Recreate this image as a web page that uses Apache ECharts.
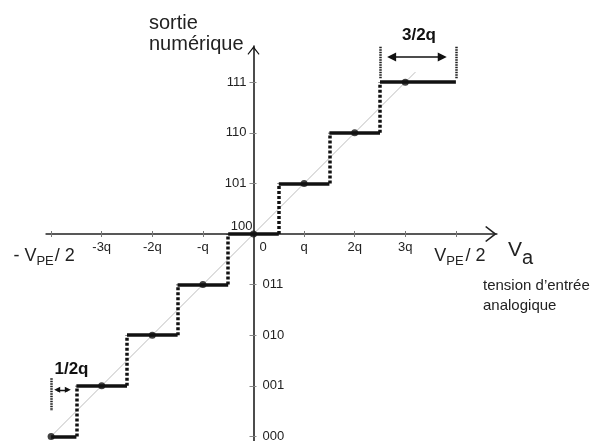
<!DOCTYPE html>
<html><head><meta charset="utf-8">
<script src="https://cdn.jsdelivr.net/npm/echarts@6/dist/echarts.min.js"></script>
<style>html,body{margin:0;padding:0;background:#fff}#c{width:596px;height:441px}</style>
</head><body><div id="c"></div>
<script>
// ---- data ----
const levels = [-4, -3, -2, -1, 0, 1, 2, 3];
const codes = ['000', '001', '010', '011', '100', '101', '110', '111'];
const stepStarts = [-4, -3.5, -2.5, -1.5, -0.5, 0.5, 1.5, 2.5];
const stepEnds = [-3.5, -2.5, -1.5, -0.5, 0.5, 1.5, 2.5, 4];
const xTickValues = [-4, -3, -2, -1, 0, 1, 2, 3, 4];
const xTickLabels = ['- V_PE / 2', '-3q', '-2q', '-q', '0', 'q', '2q', '3q', 'V_PE / 2'];
const posLevels = [0, 1, 2, 3];
const negLevels = [-4, -3, -2, -1];
const diagonal = [[-4, -4], [3.2, 3.2]];
// dimension marks (3/2q and 1/2q)
const bigSpanX = [2.5, 4];
const bigSpanY = [3.08, 3.70];
const bigArrow = [[2.73, 3.5], [3.73, 3.5]];
const smallSpanX = [-4];
const smallSpanY = [-2.85, -3.5];
const smallArrow = [[-3.88, -3.08], [-3.67, -3.08]];

const FONT = '"Liberation Sans", Arial, Helvetica, sans-serif';
const TXT = '#222';
const chev = 'path://M10,0 L20,13 L18.6,14.4 L10,3.3 L1.4,14.4 L0,13 Z';

const chart = echarts.init(document.getElementById('c'), null, {renderer: 'canvas'});

function xLabel(v) {
  const i = xTickValues.indexOf(v);
  const lbl = xTickLabels[i];
  if (lbl.indexOf('V_PE') >= 0) {
    const parts = lbl.split('V_PE');
    const pre = parts[0], post = parts[1].trim();
    if (i === 0) return '{a|' + pre + 'V}{s|PE}{al|' + post + '}';
    return '{ar|V}{s|PE}{b|' + post + '}';
  }
  if (v === 0) return '{z|' + lbl + '}';
  return '{q|' + lbl + '}';
}

// layout: origin pixel and px per unit
const unit = 50.6, x0 = 253.5, y0 = 234;
const xmin = -4.1, xmax = 4.81, ymin = -4.1, ymax = 3.715;
const GL = x0 + xmin * unit, GT = y0 - ymax * unit;
const GW = (xmax - xmin) * unit, GH = (ymax - ymin) * unit;

const option = {
  animation: false,
  backgroundColor: '#fff',
  grid: {left: GL, top: GT, width: GW, height: GH, containLabel: false, outerBoundsMode: 'none'},
  xAxis: [{
    type: 'value', min: xmin, max: xmax, position: 'bottom', offset: y0 - (GT + GH),
    splitLine: {show: false},
    axisLine: {onZero: false, symbol: ['none', chev], symbolSize: [16, 12], symbolOffset: [0, -6],
      lineStyle: {color: '#222', width: 1.5}},
    axisTick: {customValues: xTickValues, length: 3, lineStyle: {color: '#777', width: 1}},
    axisLabel: {
      customValues: xTickValues, margin: 7, formatter: xLabel, verticalAlign: 'top',
      showMinLabel: true, showMaxLabel: true, hideOverlap: false,
      rich: {
        q: {fontSize: 13, fontFamily: FONT, color: TXT, lineHeight: 13, verticalAlign: 'top'},
        z: {fontSize: 13, fontFamily: FONT, color: TXT, lineHeight: 13, verticalAlign: 'top', padding: [0, 0, 0, 19]},
        a: {fontSize: 18, fontFamily: FONT, color: TXT, lineHeight: 18, verticalAlign: 'top', padding: [6.5, 0, 0, 0]},
        al: {fontSize: 18, fontFamily: FONT, color: TXT, lineHeight: 18, verticalAlign: 'top', padding: [6.5, 14, 0, 1]},
        ar: {fontSize: 18, fontFamily: FONT, color: TXT, lineHeight: 18, verticalAlign: 'top', padding: [6.5, 0, 0, 8]},
        b: {fontSize: 18, fontFamily: FONT, color: TXT, lineHeight: 18, verticalAlign: 'top', padding: [6.5, 0, 0, 2]},
        s: {fontSize: 13, fontFamily: FONT, color: TXT, lineHeight: 13, verticalAlign: 'top', padding: [13.5, 0, 0, 0]}
      }
    }
  }, {
    type: 'value', min: xmin, max: xmax, position: 'top', offset: GT - y0,
    splitLine: {show: false},
    axisLine: {onZero: false, show: false},
    axisTick: {customValues: xTickValues, length: 3, lineStyle: {color: '#777', width: 1}},
    axisLabel: {show: false}
  }],
  yAxis: [{
    type: 'value', min: ymin, max: ymax, position: 'left', offset: GL - x0,
    splitLine: {show: false},
    axisLine: {onZero: false, symbol: ['none', chev], symbolSize: [12, 9], symbolOffset: [0, -4.5],
      lineStyle: {color: '#111', width: 1.5}},
    axisTick: {customValues: levels, length: 4, lineStyle: {color: '#888', width: 1}},
    axisLabel: {
      customValues: posLevels, margin: 1, showMinLabel: true, showMaxLabel: true,
      formatter: function (v) {
        const c = codes[levels.indexOf(v)];
        return v === 0 ? '{z|' + c + '}' : '{p|' + c + '}';
      },
      rich: {
        p: {fontSize: 13, fontFamily: FONT, color: TXT, padding: [0, 6, 0, 0]},
        z: {fontSize: 13, fontFamily: FONT, color: TXT, padding: [0, 0, 16, 0]}
      }
    }
  }, {
    type: 'value', min: ymin, max: ymax, position: 'right', offset: x0 - GL - GW,
    splitLine: {show: false},
    axisLine: {onZero: false, show: false},
    axisTick: {customValues: levels, length: 3, lineStyle: {color: '#888', width: 1}},
    axisLabel: {
      customValues: negLevels, margin: 9, fontSize: 13, fontFamily: FONT, color: TXT,
      showMinLabel: true, showMaxLabel: true,
      formatter: function (v) { return codes[levels.indexOf(v)]; }
    }
  }],
  series: [
    {
      type: 'line', data: diagonal, symbol: 'none', silent: true, z: 1,
      lineStyle: {color: '#bdbdbd', width: 1}
    },
    {
      type: 'lines', coordinateSystem: 'cartesian2d', z: 3, silent: true,
      data: levels.slice(0, -1).map((l, k) => ({coords: [[stepEnds[k], l], [stepEnds[k], levels[k + 1]]]})),
      lineStyle: {color: '#111', width: 3.5, type: [3, 2], opacity: 1}
    },
    {
      type: 'lines', coordinateSystem: 'cartesian2d', z: 4, silent: true,
      data: levels.map((l, k) => ({coords: [[stepStarts[k], l], [stepEnds[k], l]]})),
      lineStyle: {color: '#111', width: 3.5, opacity: 1}
    },
    {
      type: 'scatter', z: 5, silent: true, symbolSize: 7,
      data: levels.map(l => [l, l]),
      itemStyle: {color: '#111'}
    },
    {
      type: 'lines', coordinateSystem: 'cartesian2d', z: 3, silent: true,
      data: bigSpanX.map(x => ({coords: [[x, bigSpanY[0]], [x, bigSpanY[1]]]}))
        .concat(smallSpanX.map(x => ({coords: [[x, smallSpanY[0]], [x, smallSpanY[1]]]}))),
      lineStyle: {color: '#222', width: 2.5, type: [1.5, 1], opacity: 1}
    },
    {
      type: 'lines', coordinateSystem: 'cartesian2d', z: 3, silent: true,
      symbol: ['triangle', 'triangle'], symbolSize: 9,
      data: [{coords: bigArrow}],
      lineStyle: {color: '#111', width: 1.6, opacity: 1}
    },
    {
      type: 'lines', coordinateSystem: 'cartesian2d', z: 3, silent: true,
      symbol: ['triangle', 'triangle'], symbolSize: 6,
      data: [{coords: smallArrow}],
      lineStyle: {color: '#111', width: 1.3, opacity: 1}
    }
  ],
  graphic: [
    {type: 'text', x: 149, y: 13, silent: true,
      style: {text: 'sortie\nnumérique', fontSize: 20, fontFamily: FONT, fill: TXT, lineHeight: 21, align: 'left', verticalAlign: 'top'}},
    {type: 'text', x: 508, y: 240, silent: true,
      style: {text: '{v|V}{a|a}', align: 'left', verticalAlign: 'top',
        rich: {
          v: {fontSize: 21, fontFamily: FONT, fill: TXT, lineHeight: 21, verticalAlign: 'top'},
          a: {fontSize: 20, fontFamily: FONT, fill: TXT, lineHeight: 20, verticalAlign: 'top', padding: [8.5, 0, 0, 0]}
        }}},
    {type: 'text', x: 483, y: 276, silent: true,
      style: {text: 'tension d\u2019entrée\nanalogique', fontSize: 15, fontFamily: FONT, fill: TXT, lineHeight: 20, align: 'left', verticalAlign: 'top'}},
    {type: 'text', x: 419, y: 35, silent: true,
      style: {text: '3/2q', fontSize: 17, fontWeight: 'bold', fontFamily: FONT, fill: '#111', align: 'center', verticalAlign: 'middle'}},
    {type: 'text', x: 71.5, y: 369.5, silent: true,
      style: {text: '1/2q', fontSize: 17, fontWeight: 'bold', fontFamily: FONT, fill: '#111', align: 'center', verticalAlign: 'middle'}}
  ]
};
chart.setOption(option);
</script>
</body></html>
